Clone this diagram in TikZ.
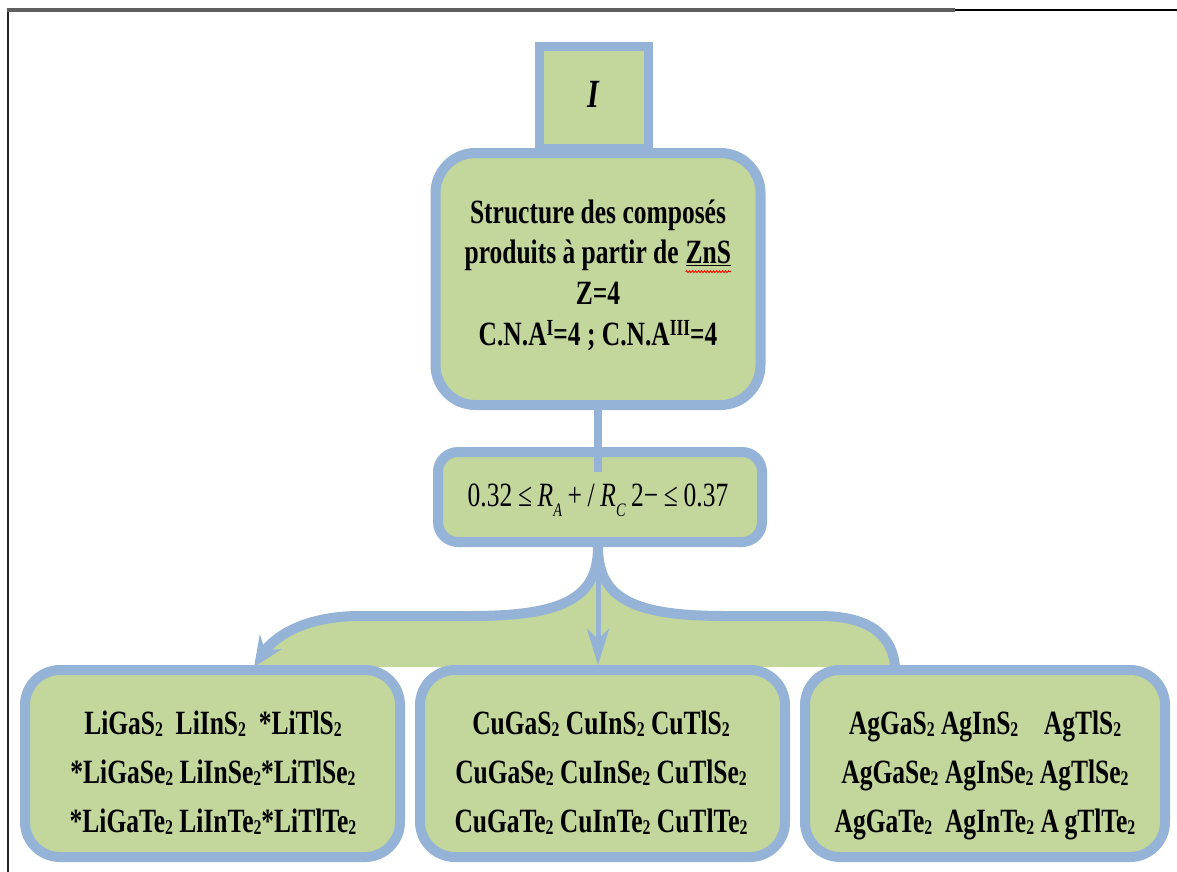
\documentclass[tikz,border=0pt]{standalone}
\usepackage{fontspec}
\setmainfont{Liberation Serif}[FakeStretch=0.75]
\usetikzlibrary{arrows.meta,decorations.pathmorphing}

\definecolor{edge}{RGB}{149,179,215}
\definecolor{leaf}{RGB}{195,214,155}
\definecolor{framegray}{RGB}{95,95,95}

% raised / lowered indices in running text
\newcommand\upidx[1]{\raisebox{0.28em}{\fontsize{23}{23}\selectfont #1}}
\newcommand\lowidx[1]{\raisebox{-2pt}{\fontsize{21}{21}\selectfont #1}}
\newcommand\ratioidx[1]{\raisebox{-0.3em}{\fontsize{19}{19}\selectfont\itshape #1}}
% word flagged by the spell checker: underline plus red wavy line
\newcommand\spellflag[1]{\tikz[baseline=(sw.base)]{%
  \node[inner sep=0pt, outer sep=0pt, anchor=base] (sw) {\underline{#1}};
  \draw[red, line width=0.9pt, decorate,
        decoration={snake, amplitude=0.9pt, segment length=3pt}]
        ([yshift=-5.5pt]sw.south west) -- ([yshift=-5.5pt]sw.south east);}}

\tikzset{
  panel/.style={draw=edge, fill=leaf, line width=10pt, inner sep=0pt},
  headfont/.style={font=\fontsize{34}{40.7}\selectfont\bfseries, align=center},
  listfont/.style={font=\fontsize{34}{49}\selectfont\bfseries, align=center},
  link/.style={draw=edge, line width=8pt},
  arm/.style={draw=edge, line width=10pt},
}

\begin{document}
\begin{tikzpicture}[x=1pt, y=-1pt]
\useasboundingbox (0,0) rectangle (1177,872);

% page frame
\draw[line width=2.6pt, black!85] (8,872) -- (8,10);
\draw[line width=3.2pt, framegray] (6.7,10) -- (955,10);
\draw[line width=2pt, black] (955,10) -- (1177,10);

% class label tab
\node[panel, line width=9pt, minimum width=109pt, minimum height=101pt] (tab) at (594,97.5) {};
\node[font=\fontsize{40}{40}\selectfont\bfseries\itshape] (tabtext) at (593,94) {I};

% main description box
\node[panel, rounded corners=40pt, minimum width=325pt, minimum height=252pt] (struct) at (598,279) {};
\node[headfont] (structtext) at (598,275)
  {Structure des composés\\
   produits à partir de \spellflag{ZnS}\\
   Z=4\\
   C.N.A\upidx{I}=4 ; C.N.A\upidx{III}=4};

% radius ratio condition
\node[panel, rounded corners=20pt, minimum width=324pt, minimum height=90pt] (ratio) at (600,497) {};
\node[font=\fontsize{34}{40}\selectfont] (ratiotext) at (598,500.5)
  {0.32\,≤\,\textit{R}\ratioidx{A}\,+\,/\,\textit{R}\ratioidx{C}\,2−\,≤\,0.37};

\coordinate (joint) at (598,472);
\draw[link] (struct.south) -- (struct.south |- joint);

% branching brace
\coordinate (lend) at (254,667);
\coordinate (rend) at (895,667);
\coordinate (cusp) at (598,547);
\fill[leaf] (cusp) .. controls (598,600) and (560,616) .. (470,616) -- (360,616)
  .. controls (300,616) and (272,640) .. (lend) -- (rend)
  .. controls (893,640) and (875,616) .. (820,616) -- (726,616)
  .. controls (636,616) and (598,600) .. (cusp) -- cycle;

% three families of compounds
\node[panel, rounded corners=35pt, minimum width=375pt, minimum height=187pt] (li) at (212.5,763.5) {};
\node[panel, rounded corners=35pt, minimum width=365pt, minimum height=187pt] (cu) at (602.5,763.5) {};
\node[panel, rounded corners=35pt, minimum width=360pt, minimum height=187pt] (ag) at (985,763.5) {};

\draw[arm, -{Stealth[length=30pt, width=26pt, inset=10pt]}] (cusp)
  .. controls (598,600) and (560,616) .. (470,616) -- (360,616)
  .. controls (300,616) and (272,640) .. (lend);
\draw[arm] (cusp)
  .. controls (598,600) and (636,616) .. (726,616) -- (820,616)
  .. controls (875,616) and (893,640) .. (rend);
\draw[draw=edge, line width=5pt, -{Stealth[length=36pt, width=22pt, inset=10pt]}]
  (cusp) -- (cusp |- cu.north);

\node[listfont] (litext) at (213,772.5)
  {LiGaS\lowidx{2}\ \ LiInS\lowidx{2}\ \ *LiTlS\lowidx{2}\\
   *LiGaSe\lowidx{2} LiInSe\lowidx{2}*LiTlSe\lowidx{2}\\
   *LiGaTe\lowidx{2} LiInTe\lowidx{2}*LiTlTe\lowidx{2}};
\node[listfont] (cutext) at (601,772.5)
  {CuGaS\lowidx{2} CuInS\lowidx{2} CuTlS\lowidx{2}\\
   CuGaSe\lowidx{2} CuInSe\lowidx{2} CuTlSe\lowidx{2}\\
   CuGaTe\lowidx{2} CuInTe\lowidx{2} CuTlTe\lowidx{2}};
\node[listfont] (agtext) at (985,775)
  {AgGaS\lowidx{2} AgInS\lowidx{2}\ \ \ \ AgTlS\lowidx{2}\\
   AgGaSe\lowidx{2} AgInSe\lowidx{2} AgTlSe\lowidx{2}\\
   AgGaTe\lowidx{2}\ \ AgInTe\lowidx{2} A\,gTlTe\lowidx{2}};
\end{tikzpicture}
\end{document}
